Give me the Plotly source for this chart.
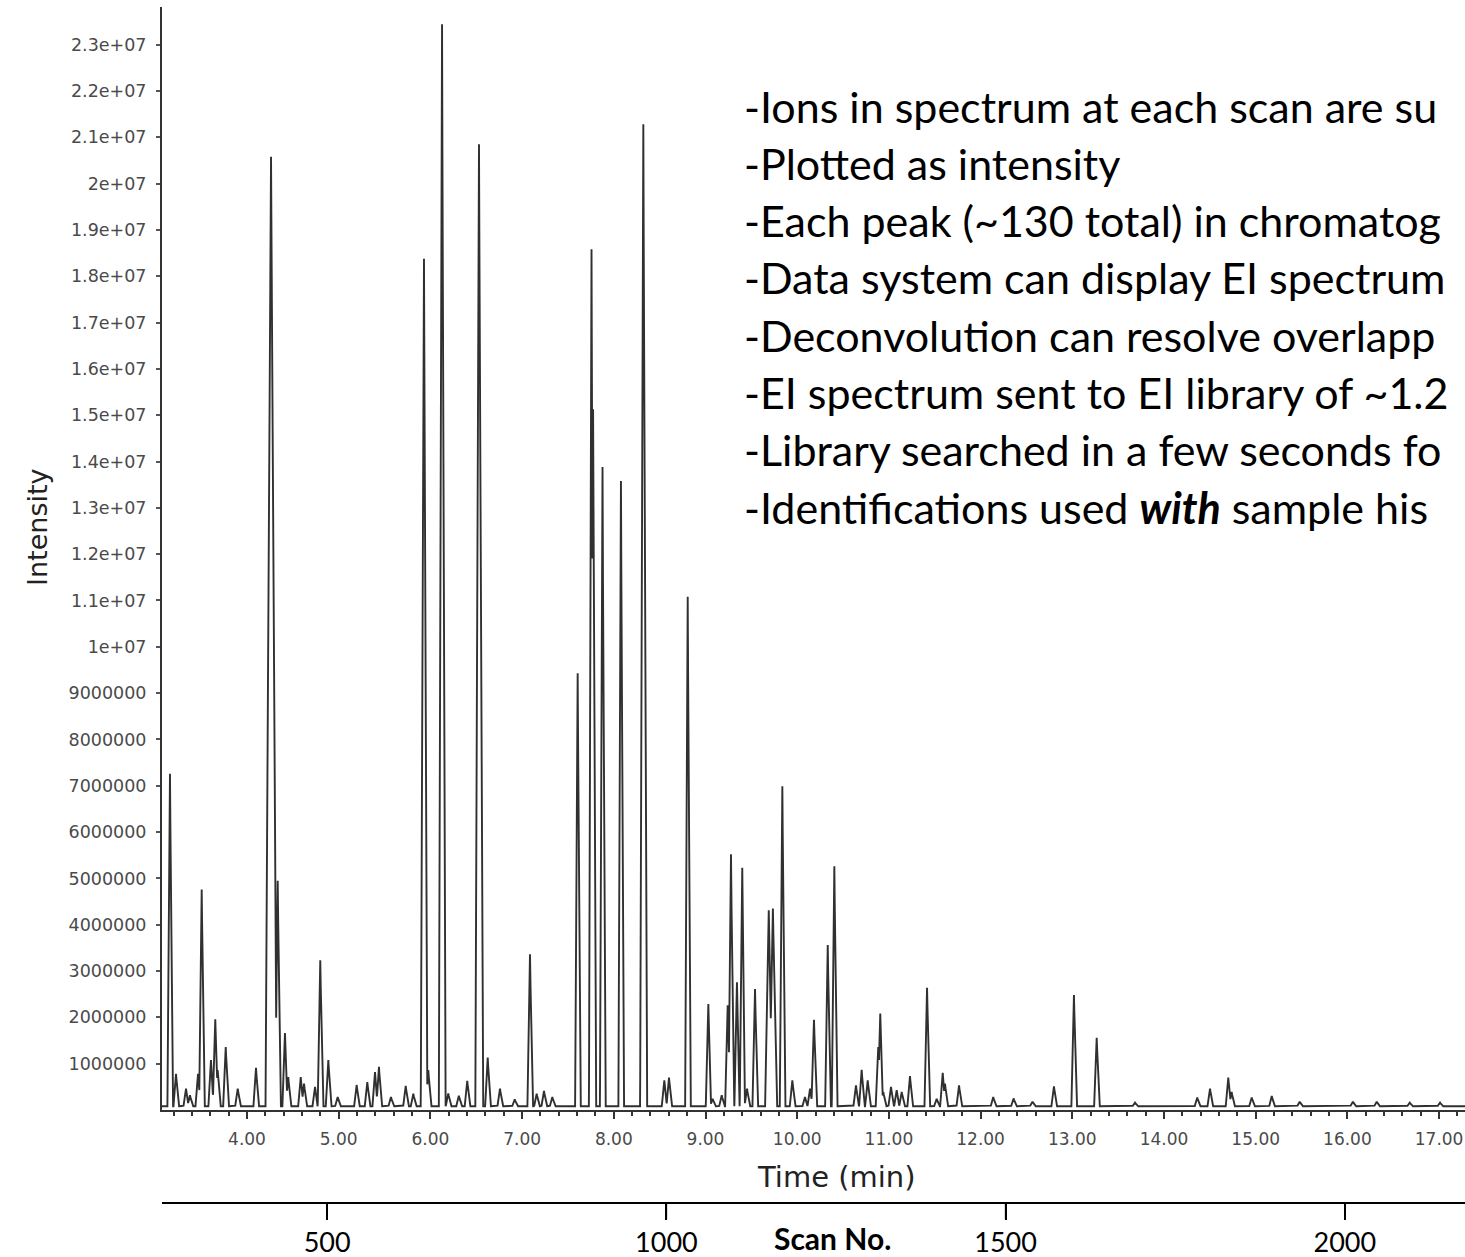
import numpy as np
import plotly.graph_objects as go

# ---------------- data ----------------
# peak apex retention times (min) and apex intensities (x 1e6 counts)
peak_time = [3.160, 3.226, 3.335, 3.378, 3.466, 3.506, 3.607, 3.654, 3.680, 3.768,
             3.899, 4.098, 4.262, 4.335, 4.414, 4.450, 4.586, 4.622, 4.742, 4.799,
             4.887, 4.989, 5.196, 5.312, 5.396, 5.439, 5.570, 5.731, 5.814, 5.930,
             5.977, 6.127, 6.195, 6.310, 6.402, 6.530, 6.625, 6.759, 6.920, 7.086,
             7.159, 7.239, 7.330, 7.606, 7.757, 7.774, 7.877, 8.078, 8.322, 8.551,
             8.602, 8.806, 9.031, 9.078, 9.177, 9.242, 9.278, 9.343, 9.401, 9.453,
             9.540, 9.690, 9.735, 9.838, 9.947, 10.085, 10.140, 10.183, 10.333, 10.405,
             10.641, 10.703, 10.769, 10.884, 10.906, 10.939, 11.023, 11.085, 11.140, 11.230,
             11.416, 11.521, 11.587, 11.612, 11.765, 12.138, 12.360, 12.566, 12.800, 13.018,
             13.266, 13.684, 14.363, 14.502, 14.701, 14.738, 14.957, 15.175, 15.480, 16.060,
             16.320, 16.680, 17.010]
peak_height = [7.18, 0.70, 0.38, 0.24, 0.70, 4.68, 1.00, 1.88, 0.78, 1.28,
               0.38, 0.83, 20.50, 4.87, 1.58, 0.63, 0.63, 0.49, 0.42, 3.15,
               1.00, 0.20, 0.46, 0.52, 0.74, 0.85, 0.20, 0.44, 0.27, 18.30,
               0.78, 23.36, 0.28, 0.23, 0.55, 20.77, 1.05, 0.38, 0.15, 3.28,
               0.27, 0.33, 0.20, 9.35, 18.50, 15.05, 13.80, 13.50, 21.20, 0.56,
               0.62, 11.00, 2.21, 0.16, 0.24, 2.18, 5.44, 2.68, 5.15, 0.38,
               2.53, 4.23, 4.27, 6.91, 0.56, 0.20, 0.38, 1.87, 3.48, 5.18,
               0.45, 0.79, 0.56, 1.28, 2.00, 0.31, 0.42, 0.35, 0.31, 0.65,
               2.56, 0.16, 0.72, 0.49, 0.45, 0.20, 0.17, 0.10, 0.43, 2.40,
               1.48, 0.08, 0.19, 0.38, 0.62, 0.31, 0.19, 0.22, 0.10, 0.10,
               0.10, 0.08, 0.08]
# peaks that are visibly broader than the rest (apex time, half width in min)
wide_peak_time = [4.262, 5.930, 6.127, 6.530, 8.322, 9.690, 9.735]
wide_peak_halfwidth = [0.060, 0.035, 0.035, 0.040, 0.035, 0.040, 0.040]
default_halfwidth = 0.028
baseline_level = 0.08  # x 1e6

y_tick_values = [1e6 * k for k in range(1, 24)]
y_tick_text = ["1000000", "2000000", "3000000", "4000000", "5000000", "6000000",
               "7000000", "8000000", "9000000", "1e+07", "1.1e+07", "1.2e+07",
               "1.3e+07", "1.4e+07", "1.5e+07", "1.6e+07", "1.7e+07", "1.8e+07",
               "1.9e+07", "2e+07", "2.1e+07", "2.2e+07", "2.3e+07"]
scan_ticks = [500, 1000, 1500, 2000]

notes = [
    "-Ions in spectrum at each scan are su",
    "-Plotted as intensity",
    "-Each peak (~130 total) in chromatog",
    "-Data system can display EI spectrum",
    "-Deconvolution can resolve overlapp",
    "-EI spectrum sent to EI library of ~1.2",
    "-Library searched in a few seconds fo",
    "-Identifications used <b><i>with</i></b> sample his",
]

# ---------------- build trace (piecewise-linear peak envelope) ----------------
pt = np.array(peak_time)
ph = np.array(peak_height)
pw = np.full(len(pt), default_halfwidth)
for t0, w0 in zip(wide_peak_time, wide_peak_halfwidth):
    pw[np.argmin(np.abs(pt - t0))] = w0

grid = np.union1d(np.arange(3.07, 17.35, 0.002), pt)
tri = ph[None, :] * np.clip(1 - np.abs(grid[:, None] - pt[None, :]) / pw[None, :], 0, None)
intensity = (baseline_level + tri.max(axis=1)) * 1e6

# ---------------- layout geometry ----------------
W, H = 1465, 1257
L, R, T, B = 162, 0, 7, 54
plot_bottom_px = 1110
paper_h = H - T - B
paper_w = W - L - R


def px(xp):
    return (xp - L) / paper_w


def py(yp):
    return (H - B - yp) / paper_h


fig = go.Figure()
fig.add_trace(go.Scatter(x=grid, y=intensity, mode="lines",
                         line=dict(color="#303030", width=1.9),
                         hoverinfo="skip", showlegend=False))
# invisible trace to activate scan axis
fig.add_trace(go.Scatter(x=[scan_ticks[0]], y=[None], xaxis="x2", yaxis="y",
                         mode="lines", showlegend=False, hoverinfo="skip"))

fig.update_layout(
    width=W, height=H,
    margin=dict(l=L, r=R, t=T, b=B, pad=0),
    paper_bgcolor="white", plot_bgcolor="white",
    showlegend=False,
    xaxis=dict(
        range=[4 - (247 - L) / 91.7, 4 + (W - 247) / 91.7],
        anchor="y", domain=[0, 1],
        showgrid=False, zeroline=False,
        showline=True, linecolor="#333333", linewidth=2,
        ticks="outside", ticklen=7, tickwidth=2, tickcolor="#333333",
        tick0=0, dtick=1, tickformat=".2f", ticklabelstandoff=6,
        tickfont=dict(family="DejaVu Sans", size=17, color="#4a4a4a"),
        minor=dict(ticks="outside", ticklen=4, tickwidth=1.5, tickcolor="#333333",
                   dtick=0.2, showgrid=False),
    ),
    yaxis=dict(
        range=[0, (plot_bottom_px - T) / 46.32 * 1e6],
        domain=[py(plot_bottom_px), 1],
        showgrid=False, zeroline=False,
        showline=True, linecolor="#333333", linewidth=2,
        ticks="outside", ticklen=4, tickwidth=1.5, tickcolor="#555555",
        tickvals=y_tick_values, ticktext=y_tick_text, ticklabelstandoff=6,
        tickfont=dict(family="DejaVu Sans", size=17.5, color="#4a4a4a"),
    ),
    xaxis2=dict(
        overlaying="x", anchor="free", position=0, side="bottom",
        range=[256.5, 2177.2],
        showgrid=False, zeroline=False,
        showline=True, linecolor="#000000", linewidth=1.5,
        ticks="outside", ticklen=16, tickwidth=1.5, tickcolor="#000000",
        tickvals=scan_ticks,
        tickfont=dict(family="Lato", size=27, color="#000000"),
    ),
)

# tick marks of the scan axis, placed at the scan values
shapes = [dict(type="line", xref="x2", yref="paper", x0=s, x1=s,
               y0=py(1203), y1=py(1219), line=dict(color="#000000", width=1.5))
          for s in scan_ticks]
fig.update_layout(shapes=shapes)

annotations = [
    dict(text="Time (min)", x=px(836), y=py(1177), xref="paper", yref="paper",
         showarrow=False, xanchor="center", yanchor="middle",
         font=dict(family="DejaVu Sans", size=29, color="#222222")),
    dict(text="<b>Scan No.</b>", x=px(832), y=py(1238), xref="paper", yref="paper",
         showarrow=False, xanchor="center", yanchor="middle",
         font=dict(family="Lato", size=30, color="#000000")),
    dict(text="Intensity", x=px(37), y=py(527), xref="paper", yref="paper",
         showarrow=False, xanchor="center", yanchor="middle", textangle=-90,
         font=dict(family="DejaVu Sans", size=27, color="#222222")),
]
for i, line in enumerate(notes):
    annotations.append(dict(text=line, x=px(742), y=py(106 + 57.3 * i),
                            xref="paper", yref="paper", showarrow=False,
                            xanchor="left", yanchor="middle",
                            font=dict(family="Lato", size=43, color="#000000")))
fig.update_layout(annotations=annotations)

fig.write_html("out.html")
